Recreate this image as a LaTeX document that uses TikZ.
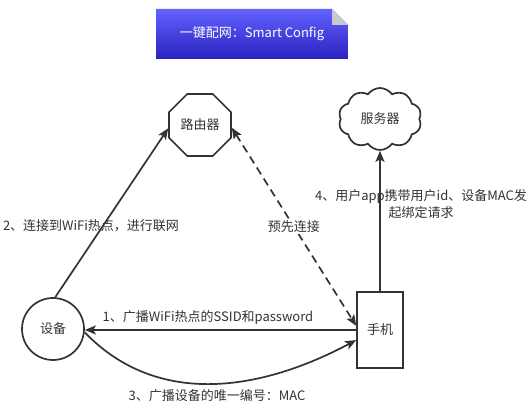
\documentclass[tikz,border=0pt]{standalone}
\usepackage{fontspec}
\setmainfont{Noto Sans CJK SC}
\usetikzlibrary{shapes.geometric,shapes.symbols,arrows.meta}
\definecolor{ink}{HTML}{333333}
\definecolor{titletop}{HTML}{6262FF}
\definecolor{titlebot}{HTML}{2A22BE}
\definecolor{foldgray}{HTML}{C9C9D2}
\begin{document}
\begin{tikzpicture}[x=1pt,y=1pt,
  every node/.style={font=\fontsize{13}{17}\selectfont, text=ink},
  myarr/.tip={Stealth[length=11pt,width=9pt,inset=2.5pt]},
  conn/.style={draw=ink, line width=1.7pt, -myarr},
  shapeline/.style={draw=ink, line width=1.7pt, fill=white},
  lbl/.style={inner sep=1pt, align=center}]
\useasboundingbox (0,0) rectangle (532,412);

% title
\shade[top color=titletop, bottom color=titlebot] (156,353) -- (156,403) -- (332,403) -- (348,387) -- (348,353) -- cycle;
\fill[foldgray] (332,403) -- (332,387) -- (348,387) -- cycle;
\node[text=white] (title) at (252,378) {一键配网：Smart Config};

% nodes
\node[shapeline, regular polygon, regular polygon sides=8, minimum size=67pt, inner sep=0pt] (router) at (200,287) {路由器};
\node[shapeline, cloud, cloud puffs=10, cloud puff arc=110, aspect=1.34, minimum width=83pt, minimum height=62pt, inner sep=0pt] (server) at (380,293) {服务器};
\node[shapeline, circle, minimum size=62pt, inner sep=0pt] (dev) at (53,83) {设备};
\node[shapeline, rectangle, minimum width=46pt, minimum height=76pt, inner sep=0pt] (phone) at (380,82) {手机};

% connectors
\draw[conn] (dev.86) -- (router.186);
\draw[conn, myarr-myarr, dash pattern=on 8pt off 5pt] (router.355) -- node[lbl, fill=white, pos=0.5] (lpre) {预先连接} (phone.170);
\draw[conn] (phone.north) -- (server.south);
\draw[conn] (phone.west) -- (phone.west -| dev.east);
\draw[conn] (dev.354) to[out=-46, in=208] (phone.203);

% labels
\node[lbl] (l1) at (208,94) {1、广播WiFi热点的SSID和password};
\node[lbl] (l2) at (91,186) {2、连接到WiFi热点，进行联网};
\node[lbl] (l3) at (217,16) {3、广播设备的唯一编号：MAC};
\node[lbl] (l4) at (421,208) {4、用户app携带用户id、设备MAC发\\起绑定请求};
\end{tikzpicture}
\end{document}
